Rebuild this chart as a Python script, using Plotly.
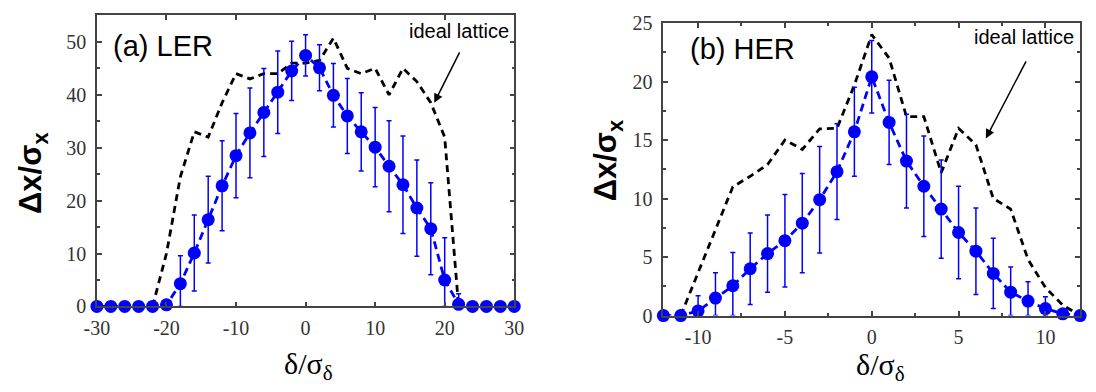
import plotly.graph_objects as go

# ---------------- data ----------------
# (a) LER
ler_x = [-30, -28, -26, -24, -22, -20, -18, -16, -14, -12, -10, -8, -6, -4, -2, 0,
         2, 4, 6, 8, 10, 12, 14, 16, 18, 20, 22, 24, 26, 28, 30]
ler_y = [0, 0, 0, 0, 0, 0.3, 4.3, 10.1, 16.4, 22.8, 28.5, 32.8, 36.65, 40.5, 44.5, 47.45,
         45.1, 39.9, 36.0, 33.0, 30.1, 26.5, 23.0, 18.6, 14.7, 5.0, 0.4, 0, 0, 0, 0]
ler_err = [0, 0, 0, 0, 0, 0, 5.3, 7.2, 8.2, 8.5, 7.95, 8.5, 8.3, 7.8, 5.6, 3.9,
           4.35, 6.0, 7.1, 7.4, 7.5, 8.6, 9.2, 9.1, 8.7, 8.0, 2.0, 0, 0, 0, 0]
ler_ideal_x = [-22, -20, -18, -16, -14, -12, -10, -8, -6, -4, -2, 0, 2, 4, 6, 8, 10,
               12, 14, 16, 18, 20, 21, 22]
ler_ideal_y = [0, 10, 24.5, 33, 32, 38.5, 44, 43, 44, 44, 46, 46, 46.5, 50.7, 45, 44, 45,
               40, 45, 42.5, 38.5, 32, 16, 0]
ler_xticks = [-30, -20, -10, 0, 10, 20, 30]
ler_xticklabels = ["-30", "-20", "-10", "0", "10", "20", "30"]
ler_yticks = [0, 10, 20, 30, 40, 50]
ler_yticklabels = ["0", "10", "20", "30", "40", "50"]

# (b) HER
her_x = list(range(-12, 13))
her_y = [0, 0, 0.4, 1.5, 2.55, 4.0, 5.3, 6.4, 7.9, 9.9, 12.3, 15.7, 20.4,
         16.5, 13.2, 11.05, 9.1, 7.1, 5.5, 3.6, 2.0, 1.24, 0.6, 0.15, 0]
her_err = [0, 0, 1.3, 2.15, 2.85, 3.05, 3.3, 3.95, 4.25, 4.55, 4.1, 3.8, 3.1,
           3.6, 4.0, 4.3, 4.2, 3.95, 3.7, 3.0, 2.15, 1.65, 1.0, 0, 0]
her_ideal_x = list(range(-11, 13))
her_ideal_y = [0, 3.7, 7.3, 11.0, 11.9, 12.9, 15.0, 14.2, 15.95, 16.0, 19.7, 24.0,
               22.0, 17.0, 17.0, 12.2, 16.0, 14.6, 10.0, 9.1, 4.8, 2.4, 0.9, 0]
her_xticks = [-10, -5, 0, 5, 10]
her_xticklabels = ["-10", "-5", "0", "5", "10"]
her_yticks = [0, 5, 10, 15, 20, 25]
her_yticklabels = ["0", "5", "10", "15", "20", "25"]

BLUE = "#0000ff"
AXC = "#444444"
SERIF = "Liberation Serif, Times New Roman, Times, DejaVu Serif, serif"
SANS = "Liberation Sans, Arial, Helvetica, sans-serif"
TICKFONT = dict(family=SERIF, size=20, color="#333333")

fig = go.Figure()

def add_panel(xs, ys, errs, ix, iy, xa, ya):
    fig.add_trace(go.Scatter(x=ix, y=iy, mode="lines", xaxis=xa, yaxis=ya,
                             line=dict(color="black", width=2.8, dash="7px,5px"),
                             showlegend=False, cliponaxis=False))
    minus = [min(e, v) for e, v in zip(errs, ys)]
    fig.add_trace(go.Scatter(x=xs, y=ys, mode="lines+markers", xaxis=xa, yaxis=ya,
                             line=dict(color=BLUE, width=2.8, dash="8px,5px"),
                             marker=dict(color=BLUE, size=13),
                             error_y=dict(type="data", array=errs, arrayminus=minus,
                                          color=BLUE, thickness=1.5, width=2.5),
                             showlegend=False, cliponaxis=False))

add_panel(ler_x, ler_y, ler_err, ler_ideal_x, ler_ideal_y, "x", "y")
add_panel(her_x, her_y, her_err, her_ideal_x, her_ideal_y, "x2", "y2")

W, H = 1096, 392
def px(x0, x1):
    return [x0 / W, x1 / W]
def py(top, bottom):
    return [(H - bottom) / H, (H - top) / H]

axcommon = dict(showline=True, linecolor=AXC, linewidth=1.5, mirror="ticks",
                ticks="inside", ticklen=5, tickwidth=1.5, tickcolor=AXC,
                showgrid=False, zeroline=False, tickfont=TICKFONT, tickmode="array")
minor_common = dict(ticks="inside", ticklen=3, tickwidth=1.5, tickcolor=AXC)

fig.update_layout(
    width=W, height=H, margin=dict(l=0, r=0, t=0, b=0),
    plot_bgcolor="white", paper_bgcolor="white",
    xaxis=dict(domain=px(85.7, 512), range=[-30, 30], anchor="y",
               tickvals=ler_xticks, ticktext=ler_xticklabels, ticklabelstandoff=3,
               **axcommon),
    yaxis=dict(domain=py(4.7, 313), range=[0, 55], anchor="x",
               tickvals=ler_yticks, ticktext=ler_yticklabels, ticklabelstandoff=5,
               minor=dict(tickvals=[5, 15, 25, 35, 45, 55], **minor_common),
               **axcommon),
    xaxis2=dict(domain=px(664.3, 1090), range=[-12, 12], anchor="y2",
                tickvals=her_xticks, ticktext=her_xticklabels, ticklabelstandoff=3,
                minor=dict(tickvals=[-12.5, -7.5, -2.5, 2.5, 7.5, 12.5], **minor_common),
                **axcommon),
    yaxis2=dict(domain=py(12.7, 322.7), range=[0, 25], anchor="x2",
                tickvals=her_yticks, ticktext=her_yticklabels, ticklabelstandoff=5,
                minor=dict(tickvals=[2.5, 7.5, 12.5, 17.5, 22.5], **minor_common),
                **axcommon),
)

ann = []
# panel labels
ann.append(dict(text="(a) LER", x=-28.0, y=49.2, xref="x", yref="y", xanchor="left",
                yanchor="middle", showarrow=False,
                font=dict(family=SANS, size=29, color="black")))
ann.append(dict(text="(b) HER", x=-10.6, y=22.75, xref="x2", yref="y2", xanchor="left",
                yanchor="middle", showarrow=False,
                font=dict(family=SANS, size=29, color="black")))
# ideal lattice labels
ann.append(dict(text="ideal lattice", x=22.0, y=52.0, xref="x", yref="y",
                xanchor="center", yanchor="middle", showarrow=False,
                font=dict(family=SANS, size=20, color="black")))
ann.append(dict(text="ideal lattice", x=8.74, y=23.8, xref="x2", yref="y2",
                xanchor="center", yanchor="middle", showarrow=False,
                font=dict(family=SANS, size=20, color="black")))
# arrows
ann.append(dict(text="", x=18.5, y=38.5, ax=22.25, ay=48.3, xref="x", yref="y",
                axref="x", ayref="y", showarrow=True, arrowhead=2, arrowsize=1.2,
                arrowwidth=1.5, arrowcolor="black"))
ann.append(dict(text="", x=6.57, y=15.14, ax=8.93, ay=21.85, xref="x2", yref="y2",
                axref="x2", ayref="y2", showarrow=True, arrowhead=2, arrowsize=1.2,
                arrowwidth=1.5, arrowcolor="black"))
# axis titles
ytitle = "<b>Δx/σ<sub>x</sub></b>"
xtitle = "δ/σ<sub>δ</sub>"
ann.append(dict(text=ytitle, x=21 / W, y=(H - 172) / H, xref="paper", yref="paper",
                textangle=-90, showarrow=False, xanchor="center", yanchor="middle",
                font=dict(family=SANS, size=31, color="black")))
ann.append(dict(text=ytitle, x=608 / W, y=(H - 159) / H, xref="paper", yref="paper",
                textangle=-90, showarrow=False, xanchor="center", yanchor="middle",
                font=dict(family=SANS, size=31, color="black")))
ann.append(dict(text=xtitle, x=302 / W, y=(H - 376) / H, xref="paper", yref="paper",
                showarrow=False, xanchor="center", yanchor="middle",
                font=dict(family=SERIF, size=30, color="black")))
ann.append(dict(text=xtitle, x=886 / W, y=(H - 377) / H, xref="paper", yref="paper",
                showarrow=False, xanchor="center", yanchor="middle",
                font=dict(family=SERIF, size=30, color="black")))
fig.update_layout(annotations=ann)

fig.write_html("out.html")
